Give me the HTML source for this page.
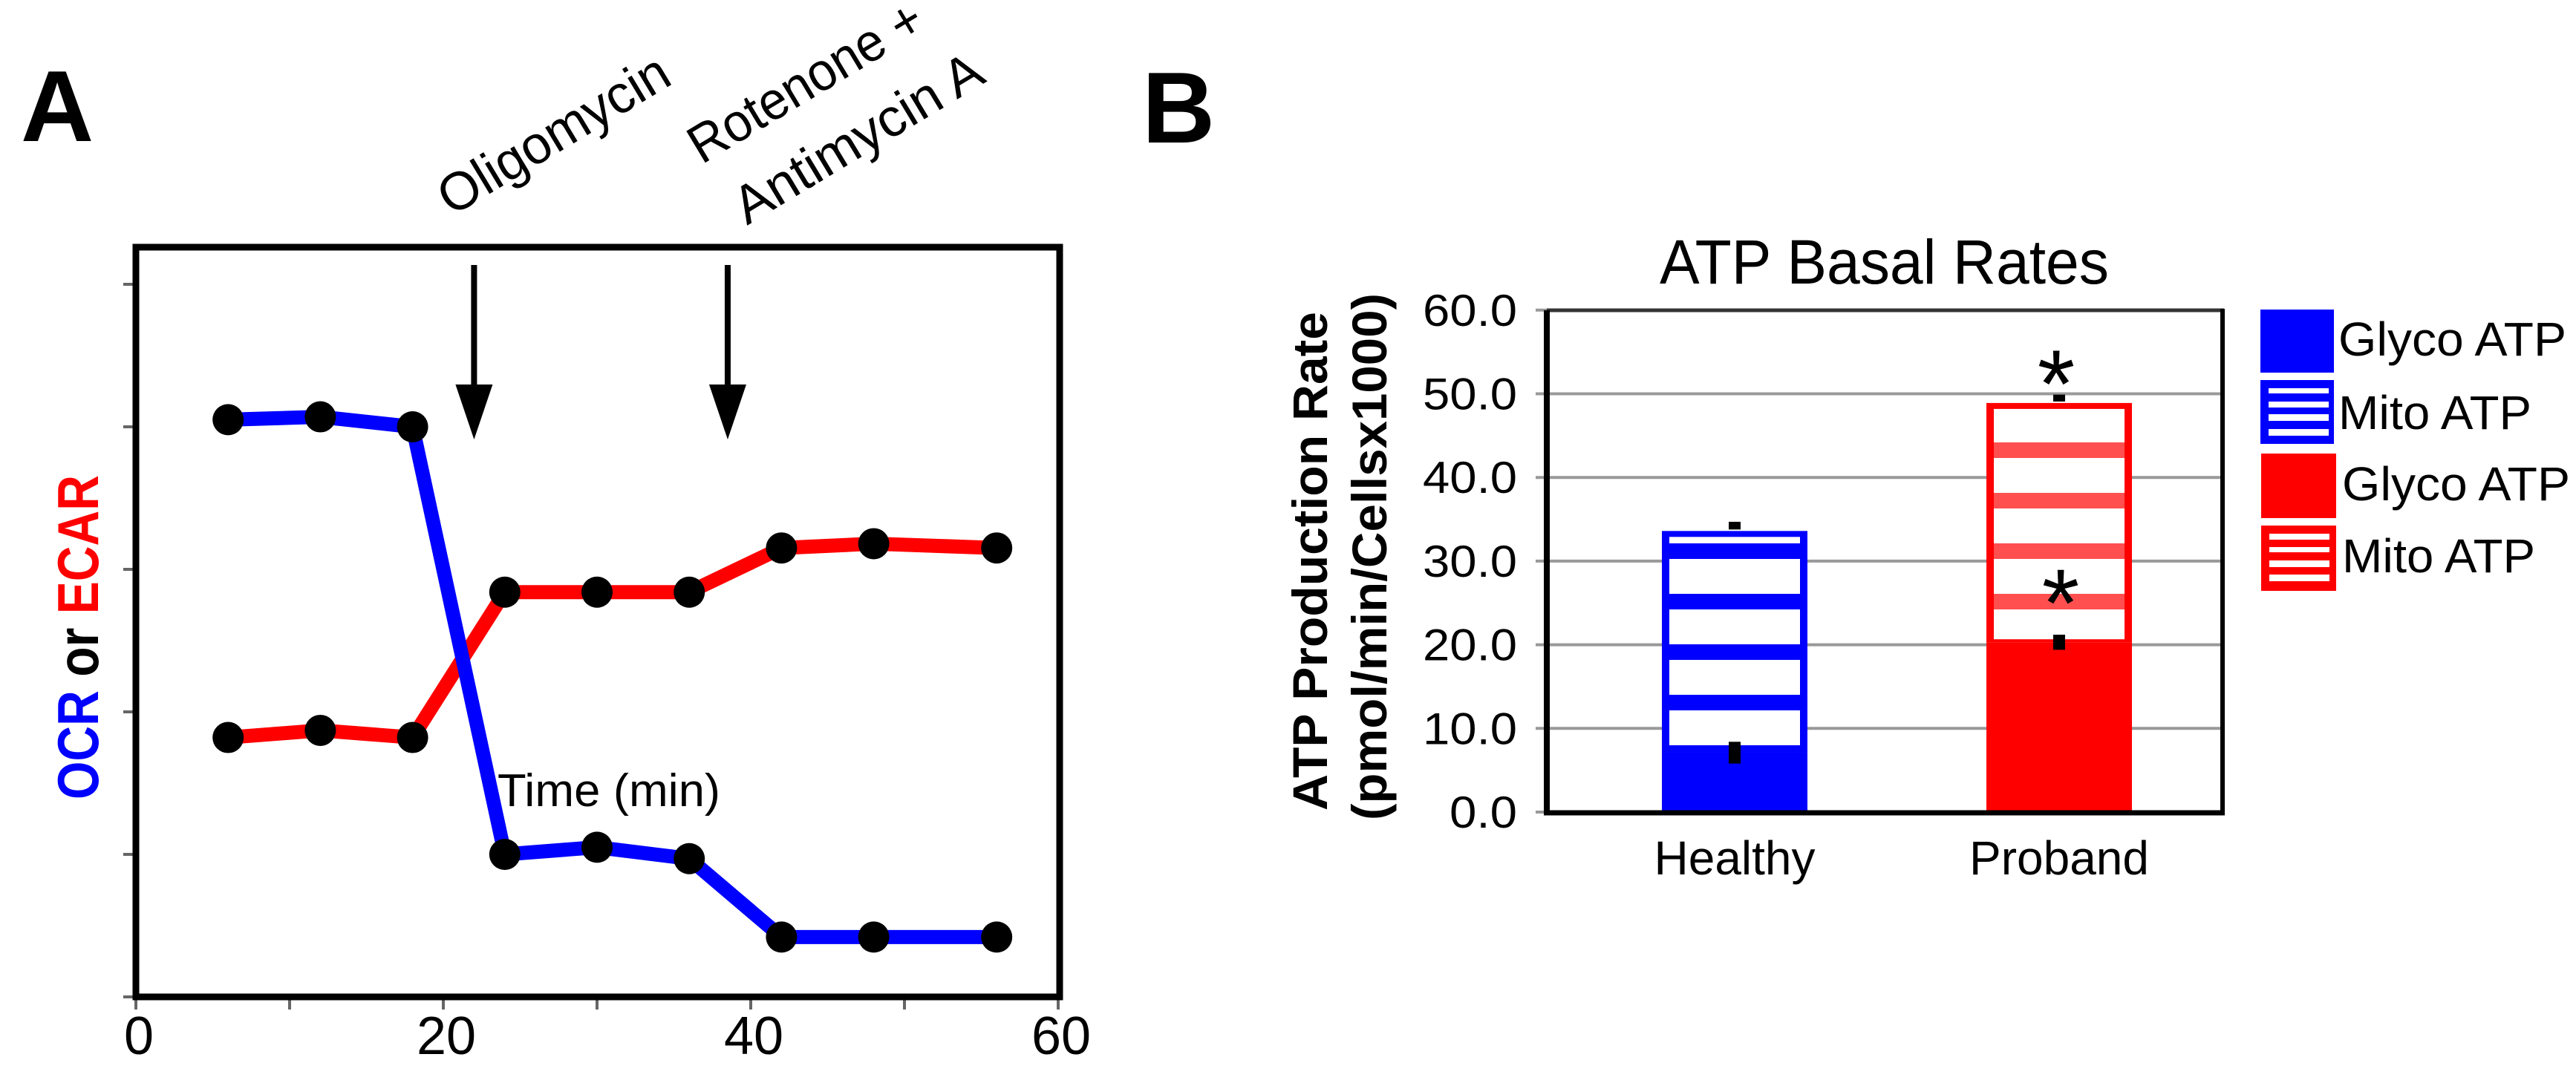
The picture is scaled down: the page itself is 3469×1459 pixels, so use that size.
<!DOCTYPE html>
<html><head><meta charset="utf-8">
<style>
html,body{margin:0;padding:0;background:#fff;}
svg{display:block;font-family:"Liberation Sans",sans-serif;}
</style></head>
<body>
<svg id="fig" width="3469" height="1459" viewBox="0 0 3469 1459" xmlns="http://www.w3.org/2000/svg">
<defs>
<pattern id="stripeBlue" patternUnits="userSpaceOnUse" x="0" y="732" width="50" height="68"><rect x="0" y="0" width="50" height="21" fill="#0000ff"/></pattern>
<pattern id="stripeRed" patternUnits="userSpaceOnUse" x="0" y="732" width="50" height="68"><rect x="0" y="0" width="50" height="21" fill="#ff4f4f"/></pattern>
</defs>
<rect x="0" y="0" width="3469" height="1459" fill="#fff"/>
<text x="28" y="190" font-size="136" font-weight="bold">A</text>
<text transform="translate(132,1077) rotate(-90)" font-size="78" font-weight="bold" textLength="437" lengthAdjust="spacingAndGlyphs"><tspan fill="#0000ff">OCR</tspan><tspan fill="#000"> or </tspan><tspan fill="#ff0000">ECAR</tspan></text>
<text transform="translate(608,292) rotate(-31)" font-size="72" textLength="350" lengthAdjust="spacingAndGlyphs">Oligomycin</text>
<text transform="translate(945,222) rotate(-31)" font-size="72" textLength="355" lengthAdjust="spacingAndGlyphs">Rotenone +</text>
<text transform="translate(1006,304) rotate(-31)" font-size="72" textLength="378" lengthAdjust="spacingAndGlyphs">Antimycin A</text>
<text x="670" y="1086" font-size="62" textLength="300" lengthAdjust="spacingAndGlyphs">Time (min)</text>
<g id="panelA"></g>
<text x="1538" y="192" font-size="136" font-weight="bold">B</text>
<text x="2235" y="382" font-size="84" textLength="605" lengthAdjust="spacingAndGlyphs">ATP Basal Rates</text>
<text transform="translate(1787,1092) rotate(-90)" font-size="66" font-weight="bold" textLength="672" lengthAdjust="spacingAndGlyphs">ATP Production Rate</text>
<text transform="translate(1867,1105) rotate(-90)" font-size="66" font-weight="bold" textLength="710" lengthAdjust="spacingAndGlyphs">(pmol/min/Cellsx1000)</text>
<g id="panelB"></g>
<g id="legendB">
  <g>
    <rect x="3044" y="417" width="99" height="85" fill="#0000ff"/>
    <text x="3149" y="479" font-size="64" textLength="307" lengthAdjust="spacingAndGlyphs">Glyco ATP</text>
  </g>
  <g>
    <rect x="3044" y="512" width="99" height="86" fill="#0000ff"/>
    <rect x="3055" y="523" width="81" height="7" fill="#fff"/>
    <rect x="3055" y="541" width="81" height="8" fill="#fff"/>
    <rect x="3055" y="558" width="81" height="9" fill="#fff"/>
    <rect x="3055" y="578" width="81" height="9" fill="#fff"/>
    <text x="3149" y="578" font-size="64" textLength="260" lengthAdjust="spacingAndGlyphs">Mito ATP</text>
  </g>
  <g>
    <rect x="3045" y="611" width="101" height="87" fill="#ff0000"/>
    <text x="3154" y="674" font-size="64" textLength="307" lengthAdjust="spacingAndGlyphs">Glyco ATP</text>
  </g>
  <g>
    <rect x="3045" y="708" width="101" height="88" fill="#ff0000"/>
    <rect x="3056" y="719" width="81" height="8" fill="#fff"/>
    <rect x="3056" y="737" width="81" height="7" fill="#fff"/>
    <rect x="3056" y="755" width="81" height="9" fill="#fff"/>
    <rect x="3056" y="774" width="81" height="9" fill="#fff"/>
    <text x="3154" y="771" font-size="64" textLength="260" lengthAdjust="spacingAndGlyphs">Mito ATP</text>
  </g>
</g>
</svg>
<script>
// ---------- Panel A data ----------
const timeMin = [6, 12, 18, 24, 30, 36, 42, 48, 56];
const ocrValues = [4.05, 4.07, 4.0, 1.0, 1.05, 0.97, 0.42, 0.42, 0.42];
const ecarValues = [1.82, 1.87, 1.82, 2.84, 2.84, 2.84, 3.15, 3.18, 3.15];
const xTicksA = [0, 10, 20, 30, 40, 50, 60];
const xTickLabelsA = ["0", "", "20", "", "40", "", "60"];
const yTicksA = [0, 1, 2, 3, 4, 5];
const injectionTimes = [22, 38.5];

// ---------- Panel B data ----------
const categories = ["Healthy", "Proband"];
const glycoValues = [7.1, 20.3];
const totalValues = [33.6, 48.9];
const glycoErr = [1.3, 0.9];
const totalErr = [1.1, 1.0];
const yTicksB = [0, 10, 20, 30, 40, 50, 60];
const yTickLabelsB = ["0.0", "10.0", "20.0", "30.0", "40.0", "50.0", "60.0"];
const starFlags = [false, true];

const NS = "http://www.w3.org/2000/svg";
function mk(tag, attrs, parent) {
  const e = document.createElementNS(NS, tag);
  for (const k in attrs) e.setAttribute(k, attrs[k]);
  parent.appendChild(e);
  return e;
}

// ---------- Panel A ----------
const gA = document.getElementById("panelA");
const xA = t => 183 + t * 20.7;
const yA = v => 1343 - v * 192;

yTicksA.forEach(v => {
  const t = mk("line", {x1: 166, x2: 183, y1: yA(v), y2: yA(v), stroke: "#666", "stroke-width": 4}, gA);
  
  
});
xTicksA.forEach((v, i) => {
  const t = mk("line", {x1: xA(v), x2: xA(v), y1: 1343, y2: 1360, stroke: "#666", "stroke-width": 4}, gA);
  
  
  if (xTickLabelsA[i]) {
    const l = mk("text", {x: xA(v) + 4, y: 1420, "font-size": 72, "text-anchor": "middle"}, gA);
    l.textContent = xTickLabelsA[i];
    
    
  }
});
const boxA = mk("rect", {x: 183, y: 333, width: 1244, height: 1010, fill: "none", stroke: "#000", "stroke-width": 9}, gA);



injectionTimes.forEach(t => {
  const g = mk("g", {}, gA);
  
  
  mk("line", {x1: xA(t), x2: xA(t), y1: 357, y2: 530, stroke: "#000", "stroke-width": 8}, g);
  mk("polygon", {points: `${xA(t)-25},518 ${xA(t)+25},518 ${xA(t)},592`, fill: "#000"}, g);
});

function series(vals, color, name) {
  const pts = timeMin.map((t, i) => `${xA(t)},${yA(vals[i])}`).join(" ");
  const pl = mk("polyline", {points: pts, fill: "none", stroke: color, "stroke-width": 19, "stroke-linejoin": "round"}, gA);
  
  
}
function dots(vals, name) {
  timeMin.forEach((t, i) => {
    const c = mk("circle", {cx: xA(t), cy: yA(vals[i]), r: 21, fill: "#000"}, gA);
    
    
  });
}
series(ecarValues, "#ff0000", "ecar");
series(ocrValues, "#0000ff", "ocr");
dots(ecarValues, "ecar");
dots(ocrValues, "ocr");

// ---------- Panel B ----------
const gB = document.getElementById("panelB");
const yB = v => 1094 - v * 11.27;
const xB = i => 2336 + i * 437;
const barW = 196;

yTicksB.forEach((v, i) => {
  if (v > 0) {
    const gl = mk("line", {x1: 2068, x2: 2993, y1: yB(v), y2: yB(v), stroke: "#999", "stroke-width": 4}, gB);
    
    
  } else {
    mk("line", {x1: 2068, x2: 2083, y1: yB(v), y2: yB(v), stroke: "#999", "stroke-width": 4}, gB);
  }
  const lab = yTickLabelsB[i];
  const l = mk("text", {x: 2043, y: yB(v) + 21, "font-size": 60, "text-anchor": "end", textLength: Math.round(127 * (lab.length - 0.5) / 3.5), lengthAdjust: "spacingAndGlyphs"}, gB);
  l.textContent = lab;
  
  
});
mk("line", {x1: 2083, x2: 2995, y1: 418, y2: 418, stroke: "#333", "stroke-width": 5}, gB);
mk("line", {x1: 2993, x2: 2993, y1: 416, y2: 1097, stroke: "#000", "stroke-width": 6}, gB);

categories.forEach((cat, i) => {
  const red = i === 1;
  const col = red ? "#ff0000" : "#0000ff";
  const xl = xB(i) - barW / 2;
  const yT = yB(totalValues[i]);
  const yG = yB(glycoValues[i]);
  const g = mk("g", {}, gB);
  
  
  const m = mk("rect", {x: xl, y: yT, width: barW, height: yG - yT, fill: col}, g);
  
  
  mk("rect", {x: xl + 10, y: yT + 8, width: barW - 20, height: Math.max(0, yG - yT - 12), fill: "#fff"}, g);
  mk("rect", {x: xl + 10, y: yT + 8, width: barW - 20, height: Math.max(0, yG - yT - 12), fill: red ? "url(#stripeRed)" : "url(#stripeBlue)"}, g);
  const gs = mk("rect", {x: xl, y: yG, width: barW, height: yB(0) - yG, fill: col}, g);
  
  
  const e1 = mk("rect", {x: xB(i) - 8, y: yB(totalValues[i] + totalErr[i]), width: 16, height: totalErr[i] * 11.27 - 2, fill: "#000"}, g);
  
  
  const e2 = mk("rect", {x: xB(i) - 8, y: yB(glycoValues[i] + glycoErr[i]), width: 16, height: glycoErr[i] * 2 * 11.27, fill: "#000"}, g);
  
  
  if (starFlags[i]) {
    const s1 = mk("text", {x: xB(i) - 4, y: yT + 19, "font-size": 130, "text-anchor": "middle"}, g);
    s1.textContent = "*";
    
    
    const s2 = mk("text", {x: xB(i) + 2, y: yG - 8, "font-size": 130, "text-anchor": "middle"}, g);
    s2.textContent = "*";
    
    
  }
  const lbl = mk("text", {x: xB(i), y: 1178, "font-size": 64, "text-anchor": "middle"}, gB);
  lbl.textContent = cat;
  
  
});
const axL = mk("line", {x1: 2083, x2: 2083, y1: 418, y2: 1098, stroke: "#000", "stroke-width": 8}, gB);


const axB = mk("line", {x1: 2079, x2: 2996, y1: 1095, y2: 1095, stroke: "#000", "stroke-width": 7}, gB);


</script>
</body></html>
